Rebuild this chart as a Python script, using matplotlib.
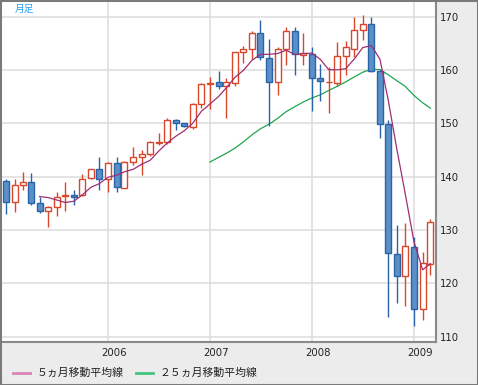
import matplotlib
matplotlib.use('Agg')
import matplotlib.pyplot as plt
import matplotlib.dates as mdates
import numpy as np
import pandas as pd
from matplotlib.lines import Line2D
from matplotlib.patches import Rectangle

# ---- data (monthly candles, Jan 2005 - Mar 2009) ----
months = pd.date_range('2005-01-01', periods=51, freq='MS')
opens = [139.2, 135.3, 138.4, 139.0, 135.0, 133.6, 134.3, 136.3, 136.6, 136.5,
         139.7, 141.4, 139.5, 142.5, 137.9, 142.8, 143.6, 144.2, 146.3, 146.4,
         150.6, 150.0, 149.3, 153.6, 157.4, 157.7, 156.9, 157.5, 163.3, 164.0,
         167.0, 162.3, 157.8, 164.0, 167.2, 162.8, 162.9, 158.5, 157.7, 157.6,
         162.6, 164.0, 167.4, 168.6, 159.8, 149.8, 125.5, 121.3, 126.8, 115.1,
         123.6]
highs = [139.6, 139.5, 140.8, 140.6, 136.1, 134.5, 137.2, 139.0, 137.4, 140.4,
         141.5, 143.7, 142.7, 143.6, 143.0, 145.6, 145.0, 146.7, 148.2, 150.9,
         150.8, 150.1, 153.8, 157.5, 158.7, 159.8, 158.4, 163.4, 164.5, 167.2,
         169.3, 165.7, 164.2, 168.1, 168.1, 167.0, 164.3, 161.1, 160.6, 165.3,
         165.5, 170.0, 170.3, 170.0, 160.0, 150.6, 130.9, 131.3, 128.6, 125.9,
         132.0]
lows = [133.0, 133.4, 137.5, 134.6, 133.1, 130.5, 132.7, 133.6, 134.6, 136.4,
        139.5, 137.5, 137.2, 137.2, 137.8, 142.2, 140.3, 143.8, 145.9, 146.2,
        148.7, 149.2, 149.0, 152.8, 152.6, 156.4, 150.9, 157.0, 161.2, 162.0,
        161.8, 149.4, 155.3, 160.9, 159.0, 160.9, 152.2, 154.2, 152.0, 157.0,
        159.0, 162.5, 165.6, 159.6, 147.3, 113.6, 116.4, 115.8, 112.0, 113.1,
        121.6]
closes = [135.3, 138.4, 139.0, 135.0, 133.6, 134.3, 136.2, 136.6, 136.2, 139.6,
          141.4, 139.6, 142.6, 138.1, 142.8, 143.7, 144.3, 146.4, 146.5, 150.6,
          150.0, 149.4, 153.6, 157.4, 157.6, 157.0, 157.7, 163.3, 164.0, 167.0,
          162.5, 157.8, 164.0, 167.2, 162.9, 163.2, 158.5, 157.9, 157.8, 162.6,
          164.3, 167.5, 168.6, 159.8, 149.8, 125.6, 121.3, 126.9, 115.1, 123.75,
          131.4]
year_labels = ['2006', '2007', '2008', '2009']
ytick_values = [110, 120, 130, 140, 150, 160, 170]
ma_short_label = '５ヵ月移動平均線'
ma_long_label = '２５ヵ月移動平均線'
period_label = '月足'

# ---- styles ----
W, H = 478, 385
UP_EDGE = '#d9472a'
DN_FACE = '#5a8fc8'
DN_EDGE = '#2a64a8'
MA5_COLOR = '#a02e72'
MA25_COLOR = '#1ea552'
JP = ['Noto Sans CJK JP', 'DejaVu Sans']

fig = plt.figure(figsize=(W / 100, H / 100), dpi=100, facecolor='#ececec')
ax = fig.add_axes([2 / W, 1 - 342 / H, 434 / W, 340 / H])
ax.set_facecolor('white')

x = mdates.date2num(months.to_pydatetime())
o = np.array(opens); h = np.array(highs); l = np.array(lows); c = np.array(closes)
up = c >= o

# scale: Jan 2006 at px 108, Jan 2009 at px 414
d2006 = mdates.date2num(pd.Timestamp('2006-01-01'))
d2009 = mdates.date2num(pd.Timestamp('2009-01-01'))
pxd = (414 - 108) / (d2009 - d2006)
left = d2006 - 106 / pxd
ax.set_xlim(left, left + 434 / pxd)
ax.set_ylim(109.0, 172.72)

# gridlines
for yv in ytick_values:
    ax.axhline(yv, color='#dddddd', lw=1.1, zorder=0)
year_dates = [mdates.date2num(pd.Timestamp(f'{y}-01-01')) for y in year_labels]
for xd in year_dates:
    ax.axvline(xd, color='#dddddd', lw=1.1, zorder=0)

# moving averages
cs = pd.Series(closes)
ma5 = cs.rolling(5).mean().values
ma25 = cs.rolling(25).mean().values
ax.plot(x, ma25, color=MA25_COLOR, lw=0.9, zorder=2)

# candles
bw = 6 / pxd
ax.vlines(x[up], l[up], h[up], color=UP_EDGE, lw=1.0, zorder=3)
ax.vlines(x[~up], l[~up], h[~up], color=DN_EDGE, lw=1.0, zorder=3)
bottoms = np.minimum(o, c)
heights = np.maximum(np.abs(c - o), 0.05)
ax.bar(x[up], heights[up], bottom=bottoms[up], width=bw, facecolor='white',
       edgecolor=UP_EDGE, lw=1.0, zorder=4)
ax.bar(x[~up], heights[~up], bottom=bottoms[~up], width=bw, facecolor=DN_FACE,
       edgecolor=DN_EDGE, lw=1.0, zorder=4)

ax.plot(x, ma5, color=MA5_COLOR, lw=0.9, zorder=5)

# axes decoration
for s in ['left', 'top']:
    ax.spines[s].set_visible(False)
for s in ['right', 'bottom']:
    ax.spines[s].set_color('#8a8a8a')
    ax.spines[s].set_linewidth(1.5)

ax.yaxis.tick_right()
ax.set_yticks(ytick_values)
ax.set_yticklabels([str(v) for v in ytick_values])
ax.set_xticks([xd + 6 / pxd for xd in year_dates])
ax.set_xticklabels(year_labels)
ax.tick_params(axis='both', length=0, labelsize=7.3, colors='#222222')
ax.tick_params(axis='y', pad=3)
ax.tick_params(axis='x', pad=4)

ax.text(13 / 434, 1 - 7 / 340, period_label, transform=ax.transAxes,
        ha='left', va='center', fontsize=7, color='#2aa0ee', family=JP)

# legend
yl = 1 - 373 / H
fig.add_artist(Line2D([13 / W, 30 / W], [yl, yl], color='#d785b6', lw=2,
                      transform=fig.transFigure))
fig.text(37 / W, yl, ma_short_label, ha='left', va='center', fontsize=7.8,
         color='#222222', family=JP)
fig.add_artist(Line2D([136 / W, 153 / W], [yl, yl], color='#45c27e', lw=2,
                      transform=fig.transFigure))
fig.text(160 / W, yl, ma_long_label, ha='left', va='center', fontsize=7.8,
         color='#222222', family=JP)

# outer border
fig.add_artist(Rectangle((0, 0), 1, 1, transform=fig.transFigure, fill=False,
                         edgecolor='#7a7a7a', lw=2.2))

fig.savefig('out.png', dpi=100, facecolor=fig.get_facecolor())
